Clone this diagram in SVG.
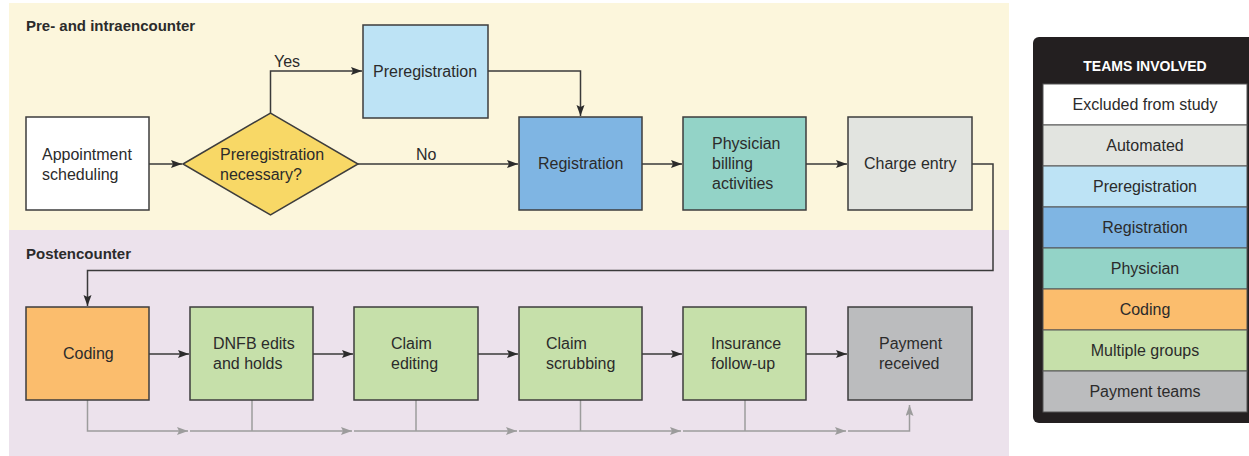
<svg xmlns="http://www.w3.org/2000/svg" width="1249" height="456" viewBox="0 0 1249 456">
<style>
text{font-family:"Liberation Sans",Arial,sans-serif;font-size:16px;fill:#2b2b2b}
.title{font-weight:bold;font-size:15px}
.box{stroke:#3d3d3d;stroke-width:1.5}
.conn{fill:none;stroke:#3a3a3a;stroke-width:1.5}
.gray{fill:none;stroke:#9c9c9c;stroke-width:1.5}
.lg{stroke:#555;stroke-width:1}
.lt{text-anchor:middle}
</style>
<defs>
<marker id="ah" markerUnits="userSpaceOnUse" markerWidth="12" markerHeight="10" refX="11" refY="4" orient="auto">
<path d="M0,0 L11,4 L0,8 L2,4 z" fill="#2b2b2b"/>
</marker>
<marker id="ahg" markerUnits="userSpaceOnUse" markerWidth="12" markerHeight="10" refX="11" refY="4" orient="auto">
<path d="M0,0 L11,4 L0,8 L2,4 z" fill="#9c9c9c"/>
</marker>
</defs>
<rect x="0" y="0" width="1249" height="456" fill="#ffffff"/>
<g id="panel-pre">
<rect x="9" y="3" width="1000" height="227" fill="#fcf6dc"/>
<text class="title" x="26" y="31">Pre- and intraencounter</text>
</g>
<g id="panel-post">
<rect x="9" y="230" width="1000" height="226" fill="#ece2ec"/>
<text class="title" x="26" y="259">Postencounter</text>
</g>
<g id="connectors">
<path class="conn" d="M149,164 H182" marker-end="url(#ah)"/>
<path class="conn" d="M270.5,113 V71 H362" marker-end="url(#ah)"/>
<path class="conn" d="M358,164 H518" marker-end="url(#ah)"/>
<path class="conn" d="M488,71 H580.5 V116" marker-end="url(#ah)"/>
<path class="conn" d="M642,164 H682" marker-end="url(#ah)"/>
<path class="conn" d="M806,164 H847" marker-end="url(#ah)"/>
<path class="conn" d="M972,164 H993 V270.5 H87.5 V306" marker-end="url(#ah)"/>
<path class="conn" d="M149,354 H189" marker-end="url(#ah)"/>
<path class="conn" d="M313,354 H353" marker-end="url(#ah)"/>
<path class="conn" d="M478,354 H518" marker-end="url(#ah)"/>
<path class="conn" d="M642,354 H682" marker-end="url(#ah)"/>
<path class="conn" d="M806,354 H847" marker-end="url(#ah)"/>
<path class="gray" d="M87.5,400 V431 H188" marker-end="url(#ahg)"/>
<path class="gray" d="M190,431 H352" marker-end="url(#ahg)"/>
<path class="gray" d="M252,400 V431"/>
<path class="gray" d="M354,431 H517" marker-end="url(#ahg)"/>
<path class="gray" d="M416,400 V431"/>
<path class="gray" d="M519,431 H681" marker-end="url(#ahg)"/>
<path class="gray" d="M580.5,400 V431"/>
<path class="gray" d="M683,431 H846" marker-end="url(#ahg)"/>
<path class="gray" d="M745,400 V431"/>
<path class="gray" d="M848,431 H909.5 V405" marker-end="url(#ahg)"/>
<text x="274" y="67">Yes</text>
<text x="416" y="160">No</text>
</g>
<g id="n-appointment">
<rect class="box" x="26" y="117" width="123" height="93" fill="#ffffff"/>
<text x="42" y="160">Appointment</text>
<text x="42" y="180">scheduling</text>
</g>
<g id="n-decision">
<polygon class="box" points="183,164 270.5,113 358,164 270.5,215" fill="#f8d866"/>
<text x="220" y="160">Preregistration</text>
<text x="220" y="180">necessary?</text>
</g>
<g id="n-preregistration">
<rect class="box" x="363" y="25" width="125" height="93" fill="#bde3f5"/>
<text x="373" y="77">Preregistration</text>
</g>
<g id="n-registration">
<rect class="box" x="519" y="117" width="123" height="93" fill="#7fb5e3"/>
<text x="538" y="169">Registration</text>
</g>
<g id="n-physician">
<rect class="box" x="683" y="117" width="123" height="93" fill="#93d3c7"/>
<text x="712" y="149">Physician</text>
<text x="712" y="169">billing</text>
<text x="712" y="189">activities</text>
</g>
<g id="n-charge">
<rect class="box" x="848" y="117" width="124" height="93" fill="#e2e4e0"/>
<text x="864" y="169">Charge entry</text>
</g>
<g id="n-coding">
<rect class="box" x="26" y="307" width="123" height="93" fill="#fbbd6d"/>
<text x="63" y="359">Coding</text>
</g>
<g id="n-dnfb">
<rect class="box" x="190" y="307" width="123" height="93" fill="#c6e0aa"/>
<text x="213" y="349">DNFB edits</text>
<text x="213" y="369">and holds</text>
</g>
<g id="n-claimedit">
<rect class="box" x="354" y="307" width="124" height="93" fill="#c6e0aa"/>
<text x="391" y="349">Claim</text>
<text x="391" y="369">editing</text>
</g>
<g id="n-scrub">
<rect class="box" x="519" y="307" width="123" height="93" fill="#c6e0aa"/>
<text x="546" y="349">Claim</text>
<text x="546" y="369">scrubbing</text>
</g>
<g id="n-insurance">
<rect class="box" x="683" y="307" width="123" height="93" fill="#c6e0aa"/>
<text x="711" y="349">Insurance</text>
<text x="711" y="369">follow-up</text>
</g>
<g id="n-payment">
<rect class="box" x="848" y="307" width="124" height="93" fill="#bbbcbe"/>
<text x="879" y="349">Payment</text>
<text x="879" y="369">received</text>
</g>
<g id="legend">
<rect x="1033" y="37" width="230" height="386" rx="6" fill="#231f20"/>
<text x="1145" y="71" class="lt" style="font-weight:bold;font-size:14px;fill:#ffffff">TEAMS INVOLVED</text>
<rect class="lg" x="1043" y="84" width="204" height="41" fill="#ffffff"/>
<text class="lt" x="1145" y="110">Excluded from study</text>
<rect class="lg" x="1043" y="125" width="204" height="41" fill="#e2e4e0"/>
<text class="lt" x="1145" y="151">Automated</text>
<rect class="lg" x="1043" y="166" width="204" height="41" fill="#bde3f5"/>
<text class="lt" x="1145" y="192">Preregistration</text>
<rect class="lg" x="1043" y="207" width="204" height="41" fill="#7fb5e3"/>
<text class="lt" x="1145" y="233">Registration</text>
<rect class="lg" x="1043" y="248" width="204" height="41" fill="#93d3c7"/>
<text class="lt" x="1145" y="274">Physician</text>
<rect class="lg" x="1043" y="289" width="204" height="41" fill="#fbbd6d"/>
<text class="lt" x="1145" y="315">Coding</text>
<rect class="lg" x="1043" y="330" width="204" height="41" fill="#c6e0aa"/>
<text class="lt" x="1145" y="356">Multiple groups</text>
<rect class="lg" x="1043" y="371" width="204" height="41" fill="#bbbcbe"/>
<text class="lt" x="1145" y="397">Payment teams</text>
</g>
</svg>
